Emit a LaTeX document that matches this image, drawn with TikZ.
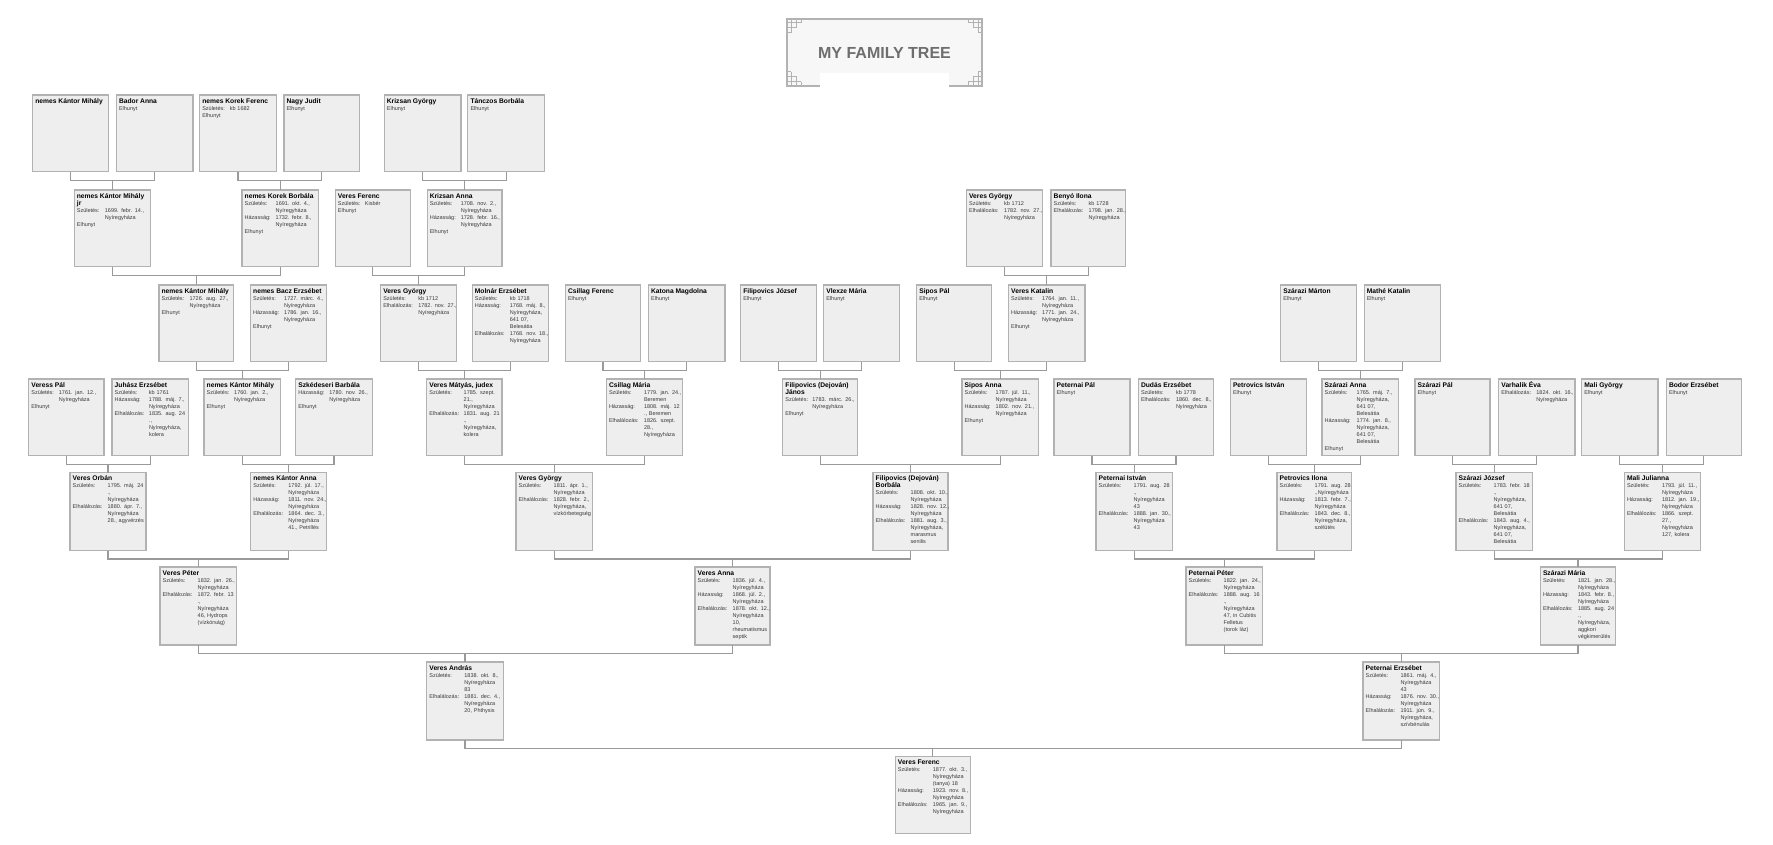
\documentclass[tikz,border=0pt]{standalone}
\usepackage{fontspec}
\setmainfont{Liberation Sans}
\usetikzlibrary{calc}
\definecolor{boxLine}{HTML}{B2B2B2}
\definecolor{boxFill}{HTML}{EEEEEE}
\definecolor{linkLine}{HTML}{9A9A9A}
\definecolor{bodyText}{HTML}{3A3A3A}
\definecolor{titleText}{HTML}{6E6E6E}
\tikzset{
  person/.style={draw=boxLine, fill=boxFill, line width=1.2pt, anchor=north west,
                 outer sep=0pt, inner xsep=2.7pt, inner ysep=0pt, align=left,
                 text=bodyText, font=\fontsize{5.5}{7}\selectfont,
                 text width=#1pt-5.4pt, text height=8.4pt, text depth=68.3pt},
  tallperson/.style={person=#1, text depth=69.6pt},
  link/.style={draw=linkLine, line width=1.1pt},
  titlebox/.style={fill=black!3, minimum width=195pt, minimum height=67pt, outer sep=0pt,
                   text=titleText, font=\fontsize{16}{20}\selectfont\bfseries},
  framing/.style={draw=boxLine, line width=1.2pt},
  fret/.pic={
    \draw[draw=boxLine, line width=1pt] (0,4) -- (14,4) (0,9) -- (9,9) -- (9,0)
      (4,0) -- (4,14) (14,0) -- (14,4) (0,14) -- (4,14);
  },
}
\newcommand{\who}[1]{{\fontsize{6.7}{7}\selectfont\bfseries\color{black}#1}}
\newcommand{\rw}[3][35]{\mbox{\makebox[#1pt][l]{#2}#3}}
\newcommand{\couple}[3]{%
  \draw[link] (#1.south) -- ++(0,8.5) coordinate (j) -| (#2.south);
  \draw[link] (#3.north) -- (#3.north |- j);}
\def\hely{Nyíregyháza}

\begin{document}
\begin{tikzpicture}[x=1pt, y=-1pt]
\useasboundingbox (0,0) rectangle (1773,845);

\node[titlebox] (title) at (884.5,52.5) {MY FAMILY TREE};
\fill[white] ($(title.south west)+(33,-13)$) rectangle ($(title.south east)+(-33,2)$);
\draw[framing] ($(title.south west)+(33,0)$) -- (title.south west) -- (title.north west)
  -- (title.north east) -- (title.south east) -- ++(-33,0);
\foreach \cn/\sx/\sy in {north west/1/1, north east/-1/1, south west/1/-1, south east/-1/-1}
  \path (title.\cn) pic[xscale=\sx, yscale=\sy] {fret};

% top row
\node[person=75.6] (kantorA) at (32.7,95) {\who{nemes Kántor Mihály}};
\node[person=76.7] (bador) at (116.3,95) {\who{Bador Anna}\\Elhunyt};
\node[person=76.7] (korekF) at (199.6,95) {\who{nemes Korek Ferenc}\\\rw[27.5]{Születés:}{kb 1682}\\Elhunyt};
\node[person=75.6] (nagy) at (283.9,95) {\who{Nagy Judit}\\Elhunyt};
\node[person=76.7] (krizsanGy) at (384.2,95) {\who{Krizsan György}\\Elhunyt};
\node[person=76.7] (tanczos) at (467.8,95) {\who{Tánczos Borbála}\\Elhunyt};

\node[person=76.3] (kantorJr) at (74.2,190) {\who{nemes Kántor Mihály}\\\who{jr}\\\rw[28]{Születés:}{1699. febr. 14.,}\\\rw[28]{}{\hely}\\Elhunyt};
\node[person=76.4] (korekB) at (242,190) {\who{nemes Korek Borbála}\\\rw[31]{Születés:}{1691. okt. 4.,}\\\rw[31]{}{\hely}\\\rw[31]{Házasság:}{1732. febr. 8.,}\\\rw[31]{}{\hely}\\Elhunyt};
\node[person=75.2] (veresF) at (335.2,190) {\who{Veres Ferenc}\\\rw[27]{Születés:}{Kisbér}\\Elhunyt};
\node[person=74.9] (krizsanA) at (427.1,190) {\who{Krizsan Anna}\\\rw[31]{Születés:}{1708. nov. 2.,}\\\rw[31]{}{\hely}\\\rw[31]{Házasság:}{1728. febr. 16.,}\\\rw[31]{}{\hely}\\Elhunyt};
\node[person=76.1] (veresGyO) at (966.4,190) {\who{Veres György}\\\rw{Születés:}{kb 1712}\\\rw{Elhalálozás:}{1782. nov. 27.,}\\\rw{}{\hely}};
\node[person=74.6] (benyo) at (1051,190) {\who{Benyó Ilona}\\\rw{Születés:}{kb 1728}\\\rw{Elhalálozás:}{1798. jan. 28.,}\\\rw{}{\hely}};

\node[person=74.8] (kantorB) at (158.9,285) {\who{nemes Kántor Mihály}\\\rw[28]{Születés:}{1726. aug. 27.,}\\\rw[28]{}{\hely}\\Elhunyt};
\node[person=75.9] (bacz) at (250.5,285) {\who{nemes Bacz Erzsébet}\\\rw[31]{Születés:}{1727. márc. 4.,}\\\rw[31]{}{\hely}\\\rw[31]{Házasság:}{1786. jan. 16.,}\\\rw[31]{}{\hely}\\Elhunyt};
\node[person=76] (veresGy) at (380.6,285) {\who{Veres György}\\\rw{Születés:}{kb 1712}\\\rw{Elhalálozás:}{1782. nov. 27.,}\\\rw{}{\hely}};
\node[person=76.3] (molnar) at (472.2,285) {\who{Molnár Erzsébet}\\\rw{Születés:}{kb 1718}\\\rw{Házasság:}{1768. máj. 8.,}\\\rw{}{\hely,}\\\rw{}{641 07,}\\\rw{}{Belesátia}\\\rw{Elhalálozás:}{1768. nov. 18.,}\\\rw{}{\hely}};
\node[person=75.4] (csillagF) at (565.3,285) {\who{Csillag Ferenc}\\Elhunyt};
\node[person=76.5] (katona) at (648.4,285) {\who{Katona Magdolna}\\Elhunyt};
\node[person=76.1] (filipJ) at (740.6,285) {\who{Filipovics József}\\Elhunyt};
\node[person=76.2] (vlexze) at (823.6,285) {\who{Vlexze Mária}\\Elhunyt};
\node[person=75] (siposP) at (916.6,285) {\who{Sipos Pál}\\Elhunyt};
\node[person=76.5] (veresK) at (1008.5,285) {\who{Veres Katalin}\\\rw[31]{Születés:}{1764. jan. 11.,}\\\rw[31]{}{\hely}\\\rw[31]{Házasság:}{1771. jan. 24.,}\\\rw[31]{}{\hely}\\Elhunyt};
\node[person=75.5] (szaraziM) at (1280.7,285) {\who{Szárazi Márton}\\Elhunyt};
\node[person=76.3] (mathe) at (1364.1,285) {\who{Mathé Katalin}\\Elhunyt};

\node[person=75.3] (veressP) at (28.7,379) {\who{Veress Pál}\\\rw[27.5]{Születés:}{1761. jan. 12.,}\\\rw[27.5]{}{\hely}\\Elhunyt};
\node[person=76.7] (juhasz) at (112,379) {\who{Juhász Erzsébet}\\\rw[34.3]{Születés:}{kb 1761}\\\rw[34.3]{Házasság:}{1788. máj. 7.,}\\\rw[34.3]{}{\hely}\\\rw[34.3]{Elhalálozás:}{1835. aug. 24}\\\rw[34.3]{}{.,}\\\rw[34.3]{}{\hely,}\\\rw[34.3]{}{kolera}};
\node[person=76.3] (kantorC) at (204,379) {\who{nemes Kántor Mihály}\\\rw[27.5]{Születés:}{1760. jan. 2.,}\\\rw[27.5]{}{\hely}\\Elhunyt};
\node[person=76.6] (szkedes) at (295.7,379) {\who{Szkédeseri Barbála}\\\rw[31]{Házasság:}{1780. nov. 26.,}\\\rw[31]{}{\hely}\\Elhunyt};
\node[person=75.3] (veresMt) at (426.7,379) {\who{Veres Mátyás, judex}\\\rw[34.3]{Születés:}{1785. szept.}\\\rw[34.3]{}{21.,}\\\rw[34.3]{}{\hely}\\\rw[34.3]{Elhalálozás:}{1831. aug. 21}\\\rw[34.3]{}{.,}\\\rw[34.3]{}{\hely,}\\\rw[34.3]{}{kolera}};
\node[person=76.4] (csillagM) at (606.3,379) {\who{Csillag Mária}\\\rw{Születés:}{1779. jan. 24.,}\\\rw{}{Beremen}\\\rw{Házasság:}{1808. máj. 12}\\\rw{}{., Beremen}\\\rw{Elhalálozás:}{1826. szept.}\\\rw{}{28.,}\\\rw{}{\hely}};
\node[person=75] (filipJa) at (782.7,379) {\who{Filipovics (Dejován)}\\\who{János}\\\rw[27]{Születés:}{1783. márc. 26.,}\\\rw[27]{}{\hely}\\Elhunyt};
\node[person=76.3] (siposA) at (962,379) {\who{Sipos Anna}\\\rw[31]{Születés:}{1787. júl. 11.,}\\\rw[31]{}{\hely}\\\rw[31]{Házasság:}{1802. nov. 21.,}\\\rw[31]{}{\hely}\\Elhunyt};
\node[person=76] (peternaiP) at (1054,379) {\who{Peternai Pál}\\Elhunyt};
\node[person=75.3] (dudas) at (1138.3,379) {\who{Dudás Erzsébet}\\\rw{Születés:}{kb 1778}\\\rw{Elhalálozás:}{1860. dec. 8.,}\\\rw{}{\hely}};
\node[person=76.4] (petrovI) at (1230.3,379) {\who{Petrovics István}\\Elhunyt};
\node[person=76.3] (szaraziA) at (1322,379) {\who{Szárazi Anna}\\\rw[32]{Születés:}{1765. máj. 7.,}\\\rw[32]{}{\hely,}\\\rw[32]{}{641 07,}\\\rw[32]{}{Belesátia}\\\rw[32]{Házasság:}{1774. jan. 8.,}\\\rw[32]{}{\hely,}\\\rw[32]{}{641 07,}\\\rw[32]{}{Belesátia}\\Elhunyt};
\node[person=75] (szaraziP) at (1415,379) {\who{Szárazi Pál}\\Elhunyt};
\node[person=76.3] (varhalik) at (1498.7,379) {\who{Varhalik Éva}\\\rw{Elhalálozás:}{1824. okt. 16.,}\\\rw{}{\hely}};
\node[person=76.3] (maliGy) at (1581.7,379) {\who{Mali György}\\Elhunyt};
\node[person=75] (bodor) at (1666.3,379) {\who{Bodor Erzsébet}\\Elhunyt};

\node[tallperson=76] (veresO) at (70,472.5) {\who{Veres Orbán}\\\rw{Születés:}{1795. máj. 24}\\\rw{}{.,}\\\rw{}{\hely}\\\rw{Elhalálozás:}{1880. ápr. 7.,}\\\rw{}{\hely}\\\rw{}{28., agyvérzés}};
\node[tallperson=76] (kantorAn) at (250.7,472.5) {\who{nemes Kántor Anna}\\\rw{Születés:}{1792. júl. 17.,}\\\rw{}{\hely}\\\rw{Házasság:}{1811. nov. 24.,}\\\rw{}{\hely}\\\rw{Elhalálozás:}{1864. dec. 3.,}\\\rw{}{\hely}\\\rw{}{41., Petrillés}};
\node[tallperson=76.3] (veresGyB) at (516,472.5) {\who{Veres György}\\\rw{Születés:}{1811. ápr. 1.,}\\\rw{}{\hely}\\\rw{Elhalálozás:}{1828. febr. 2.,}\\\rw{}{\hely,}\\\rw{}{vízkórbetegség}};
\node[tallperson=75] (filipB) at (873,472.5) {\who{Filipovics (Dejován)}\\\who{Borbála}\\\rw{Születés:}{1808. okt. 10.,}\\\rw{}{\hely}\\\rw{Házasság:}{1828. nov. 12.,}\\\rw{}{\hely}\\\rw{Elhalálozás:}{1881. aug. 3.,}\\\rw{}{\hely,}\\\rw{}{marasmus}\\\rw{}{senilis}};
\node[tallperson=76.6] (peternaiI) at (1096,472.5) {\who{Peternai István}\\\rw{Születés:}{1791. aug. 28}\\\rw{}{.,}\\\rw{}{\hely}\\\rw{}{43}\\\rw{Elhalálozás:}{1888. jan. 30.,}\\\rw{}{\hely}\\\rw{}{43}};
\node[tallperson=74.7] (petrovIl) at (1277,472.5) {\who{Petrovics Ilona}\\\rw{Születés:}{1791. aug. 28}\\\rw{}{.,\hely}\\\rw{Házasság:}{1813. febr. 7.,}\\\rw{}{\hely}\\\rw{Elhalálozás:}{1843. dec. 8.,}\\\rw{}{\hely,}\\\rw{}{szélütés}};
\node[tallperson=76.3] (szaraziJ) at (1456,472.5) {\who{Szárazi József}\\\rw{Születés:}{1783. febr. 18}\\\rw{}{.,}\\\rw{}{\hely,}\\\rw{}{641 07,}\\\rw{}{Belesátia}\\\rw{Elhalálozás:}{1843. aug. 4.,}\\\rw{}{\hely,}\\\rw{}{641 07,}\\\rw{}{Belesátia}};
\node[tallperson=76] (maliJ) at (1624.3,472.5) {\who{Mali Julianna}\\\rw{Születés:}{1793. júl. 11.,}\\\rw{}{\hely}\\\rw{Házasság:}{1812. jan. 19.,}\\\rw{}{\hely}\\\rw{Elhalálozás:}{1866. szept.}\\\rw{}{27.,}\\\rw{}{\hely}\\\rw{}{127, kolera}};

\node[tallperson=76.7] (veresPt) at (160,567) {\who{Veres Péter}\\\rw{Születés:}{1832. jan. 26.,}\\\rw{}{\hely}\\\rw{Elhalálozás:}{1872. febr. 13}\\\rw{}{.,}\\\rw{}{\hely}\\\rw{}{46, Hydrops}\\\rw{}{(vízkórság)}};
\node[tallperson=75] (veresAn) at (695,567) {\who{Veres Anna}\\\rw{Születés:}{1836. júl. 4.,}\\\rw{}{\hely}\\\rw{Házasság:}{1868. júl. 2.,}\\\rw{}{\hely}\\\rw{Elhalálozás:}{1878. okt. 12.,}\\\rw{}{\hely}\\\rw{}{10,}\\\rw{}{rheumatismus}\\\rw{}{septik}};
\node[tallperson=76.6] (peternaiPt) at (1186,567) {\who{Peternai Péter}\\\rw{Születés:}{1822. jan. 24.,}\\\rw{}{\hely}\\\rw{Elhalálozás:}{1888. aug. 16}\\\rw{}{.,}\\\rw{}{\hely}\\\rw{}{47, in Cubitis}\\\rw{}{Felletus}\\\rw{}{(torok láz)}};
\node[tallperson=75.4] (szaraziMa) at (1540.3,567) {\who{Szárazi Mária}\\\rw{Születés:}{1821. jan. 28.,}\\\rw{}{\hely}\\\rw{Házasság:}{1843. febr. 8.,}\\\rw{}{\hely}\\\rw{Elhalálozás:}{1885. aug. 24}\\\rw{}{.,}\\\rw{}{\hely,}\\\rw{}{aggkori}\\\rw{}{végkimerülés}};

\node[tallperson=76.6] (veresAd) at (426.7,662) {\who{Veres András}\\\rw{Születés:}{1838. okt. 8.,}\\\rw{}{\hely}\\\rw{}{83}\\\rw{Elhalálozás:}{1881. dec. 4.,}\\\rw{}{\hely}\\\rw{}{20, Phthysis}};
\node[tallperson=76.9] (peternaiE) at (1362.9,662) {\who{Peternai Erzsébet}\\\rw{Születés:}{1861. máj. 4.,}\\\rw{}{\hely}\\\rw{}{43}\\\rw{Házasság:}{1876. nov. 30.,}\\\rw{}{\hely}\\\rw{Elhalálozás:}{1911. jún. 9.,}\\\rw{}{\hely,}\\\rw{}{szívbénulás}};

\node[person=75.4] (veresFe) at (895.2,756.5) {\who{Veres Ferenc}\\\rw{Születés:}{1877. okt. 3.,}\\\rw{}{\hely}\\\rw{}{(tanya) 18}\\\rw{Házasság:}{1923. nov. 8.,}\\\rw{}{\hely}\\\rw{Elhalálozás:}{1965. jan. 9.,}\\\rw{}{\hely}};

\couple{kantorA}{bador}{kantorJr}
\couple{korekF}{nagy}{korekB}
\couple{krizsanGy}{tanczos}{krizsanA}
\couple{kantorJr}{korekB}{kantorB}
\couple{veresF}{krizsanA}{veresGy}
\couple{veresGyO}{benyo}{veresK}
\couple{kantorB}{bacz}{kantorC}
\couple{veresGy}{molnar}{veresMt}
\couple{csillagF}{katona}{csillagM}
\couple{filipJ}{vlexze}{filipJa}
\couple{siposP}{veresK}{siposA}
\couple{szaraziM}{mathe}{szaraziA}
\couple{veressP}{juhasz}{veresO}
\couple{kantorC}{szkedes}{kantorAn}
\couple{veresMt}{csillagM}{veresGyB}
\couple{filipJa}{siposA}{filipB}
\couple{peternaiP}{dudas}{peternaiI}
\couple{petrovI}{szaraziA}{petrovIl}
\couple{szaraziP}{varhalik}{szaraziJ}
\couple{maliGy}{bodor}{maliJ}
\couple{veresO}{kantorAn}{veresPt}
\couple{veresGyB}{filipB}{veresAn}
\couple{peternaiI}{petrovIl}{peternaiPt}
\couple{szaraziJ}{maliJ}{szaraziMa}
\couple{veresPt}{veresAn}{veresAd}
\couple{peternaiPt}{szaraziMa}{peternaiE}
\couple{veresAd}{peternaiE}{veresFe}

\end{tikzpicture}
\end{document}
